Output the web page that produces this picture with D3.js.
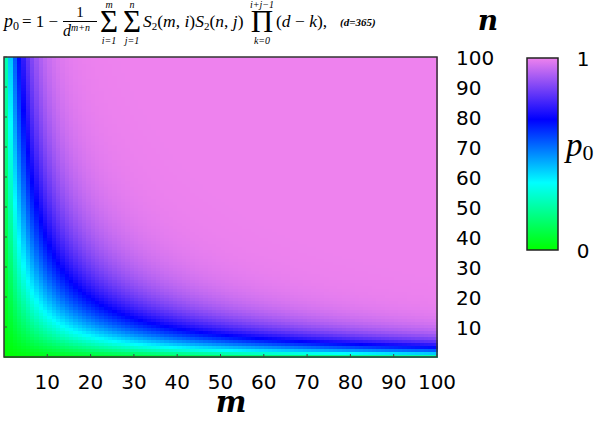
<!DOCTYPE html>
<html><head><meta charset="utf-8">
<script src="https://cdn.jsdelivr.net/npm/d3@7"></script>
<style>body{margin:0;background:#fff}svg{display:block}</style>
</head><body>
<svg id="c" width="600" height="421"></svg>
<script>
// ---- data ----
const d = 365;                       // days, as given in the title
const mValues = d3.range(1, 101);    // group sizes m (x)
const nValues = d3.range(1, 101);    // group sizes n (y)
const xTicks = [10, 20, 30, 40, 50, 60, 70, 80, 90, 100];
const yTicks = [10, 20, 30, 40, 50, 60, 70, 80, 90, 100];
const colorStops = [0, 0.35, 0.68, 1];
const colorRange = ["#00ff00", "#00ffff", "#0000ff", "#ee82ee"];
const cbarTicks = [0, 1];

// p0 from the title formula: 1 - P(birthday sets of m and n people are disjoint)
function pOccupied(m) { // distribution of number of distinct days among m people
  let p = new Float64Array(m + 2); p[0] = 1;
  for (let k = 0; k < m; k++) {
    const q = new Float64Array(m + 2);
    for (let i = 0; i <= k; i++) {
      if (!p[i]) continue;
      q[i] += p[i] * i / d;
      q[i + 1] += p[i] * (d - i) / d;
    }
    p = q;
  }
  return p;
}
const cells = [];
mValues.forEach(m => {
  const p = pOccupied(m);
  nValues.forEach(n => {
    let s = 0;
    for (let i = 1; i <= m; i++) if (p[i]) s += p[i] * Math.pow(1 - i / d, n);
    cells.push({m, n, v: 1 - s});
  });
});

// ---- chart ----
const svg = d3.select("#c");
const x = d3.scaleLinear().domain([0, 100]).range([4, 437]);
const y = d3.scaleLinear().domain([0, 100]).range([357, 57]);
const color = d3.scaleLinear().domain(colorStops).range(colorRange).interpolate(d3.interpolateRgb).clamp(true);

svg.append("g").selectAll("rect").data(cells).join("rect")
  .attr("x", c => x(c.m - 1)).attr("y", c => y(c.n))
  .attr("width", c => x(c.m) - x(c.m - 1) + 0.5)
  .attr("height", c => y(c.n - 1) - y(c.n) + 0.5)
  .attr("fill", c => color(c.v))
  .attr("shape-rendering", "crispEdges");

svg.append("rect").attr("x", x(0)).attr("y", y(100)).attr("width", x(100) - x(0)).attr("height", y(0) - y(100))
  .attr("fill", "none").attr("stroke", "#333").attr("stroke-width", 1.5);

// ticks
const tickFont = "'DejaVu Sans', sans-serif";
const gx = svg.append("g");
xTicks.forEach(t => {
  gx.append("line").attr("x1", x(t)).attr("x2", x(t)).attr("y1", y(0)).attr("y2", y(0) - 3).attr("stroke", "#444");
  gx.append("text").attr("x", x(t)).attr("y", 389).attr("text-anchor", "middle")
    .attr("font-family", tickFont).attr("font-size", 20).text(t);
});
const gy = svg.append("g");
yTicks.forEach(t => {
  gy.append("line").attr("x1", x(0)).attr("x2", x(0) + 3).attr("y1", y(t)).attr("y2", y(t)).attr("stroke", "#444");
  gy.append("text").attr("x", 456).attr("y", y(t) + 7.5).attr("text-anchor", "start")
    .attr("font-family", tickFont).attr("font-size", 20).text(t);
});

// axis labels
svg.append("text").attr("x", 231).attr("y", 412).attr("text-anchor", "middle")
  .attr("font-family", "'DejaVu Serif', serif").attr("font-style", "italic").attr("font-weight", "bold")
  .attr("font-size", 29).text("m");
svg.append("text").attr("x", 488).attr("y", 30).attr("text-anchor", "middle")
  .attr("font-family", "'DejaVu Serif', serif").attr("font-style", "italic").attr("font-weight", "bold")
  .attr("font-size", 28).text("n");

// colorbar
const cb = {x: 527, w: 31, top: 58, bottom: 250};
const defs = svg.append("defs");
const grad = defs.append("linearGradient").attr("id", "cbg").attr("x1", 0).attr("y1", 1).attr("x2", 0).attr("y2", 0);
colorStops.forEach((s, i) => grad.append("stop").attr("offset", s).attr("stop-color", colorRange[i]));
svg.append("rect").attr("x", cb.x).attr("y", cb.top).attr("width", cb.w).attr("height", cb.bottom - cb.top)
  .attr("fill", "url(#cbg)").attr("stroke", "#222").attr("stroke-width", 1.5);
const cy = d3.scaleLinear().domain([0, 1]).range([cb.bottom, cb.top]);
cbarTicks.forEach(t => {
  svg.append("text").attr("x", 583).attr("y", cy(t) + 8).attr("text-anchor", "middle")
    .attr("font-family", tickFont).attr("font-size", 20).text(t);
});
const pl = svg.append("text").attr("x", 566).attr("y", 156)
  .attr("font-family", "'Liberation Serif', serif").attr("font-style", "italic").attr("font-size", 33);
pl.append("tspan").text("p");
pl.append("tspan").attr("font-style", "normal").attr("font-size", 22).attr("dy", 4).text("0");

// ---- formula title ----
const F = "'Liberation Serif', 'Times New Roman', serif";
const T = svg.append("g").attr("font-family", F).attr("fill", "#000");
function txt(xp, yp, s, size, italic, anchor) {
  return T.append("text").attr("x", xp).attr("y", yp).attr("font-size", size)
    .attr("font-style", italic ? "italic" : "normal").attr("text-anchor", anchor || "start").text(s);
}
const base = 27;
const p0 = txt(4, base, "p", 18, true);
p0.append("tspan").attr("font-style", "normal").attr("font-size", 12).attr("dy", 3).text("0");
txt(22, base, "= 1 −", 17, false);
txt(80, 17, "1", 15, false, "middle");
T.append("line").attr("x1", 63).attr("x2", 97).attr("y1", 21.5).attr("y2", 21.5).attr("stroke", "#000").attr("stroke-width", 1);
const den = txt(63, 36, "d", 16, true);
den.append("tspan").attr("font-size", 10).attr("dy", -5).text("m+n");
// sums
[[109, "m", "i=1"], [132, "n", "j=1"]].forEach(([cx, top, bot]) => {
  txt(cx, 32, "Σ", 31, false, "middle");
  txt(cx, 8, top, 10, true, "middle");
  txt(cx, 44, bot, 10, true, "middle");
});
const s = txt(143, base, "", 17.5, true);
s.append("tspan").text("S");
s.append("tspan").attr("font-style", "normal").attr("font-size", 11).attr("dy", 3).text("2");
s.append("tspan").attr("font-style", "normal").attr("dy", -3).text("(");
s.append("tspan").text("m");
s.append("tspan").attr("font-style", "normal").text(", ");
s.append("tspan").text("i");
s.append("tspan").attr("font-style", "normal").text(")");
s.append("tspan").text("S");
s.append("tspan").attr("font-style", "normal").attr("font-size", 11).attr("dy", 3).text("2");
s.append("tspan").attr("font-style", "normal").attr("dy", -3).text("(");
s.append("tspan").text("n");
s.append("tspan").attr("font-style", "normal").text(", ");
s.append("tspan").text("j");
s.append("tspan").attr("font-style", "normal").text(")");
txt(262, 32, "Π", 31, false, "middle");
txt(262, 8, "i+j−1", 10, true, "middle");
txt(262, 44, "k=0", 10, true, "middle");
const dk = txt(276, base, "", 17.5, false);
dk.append("tspan").text("(");
dk.append("tspan").attr("font-style", "italic").text("d");
dk.append("tspan").text(" − ");
dk.append("tspan").attr("font-style", "italic").text("k");
dk.append("tspan").text("),");
T.append("text").attr("x", 340).attr("y", 26).attr("font-size", 11).attr("font-style", "italic")
  .attr("font-weight", "bold").text("(d=365)");
</script>
</body></html>
